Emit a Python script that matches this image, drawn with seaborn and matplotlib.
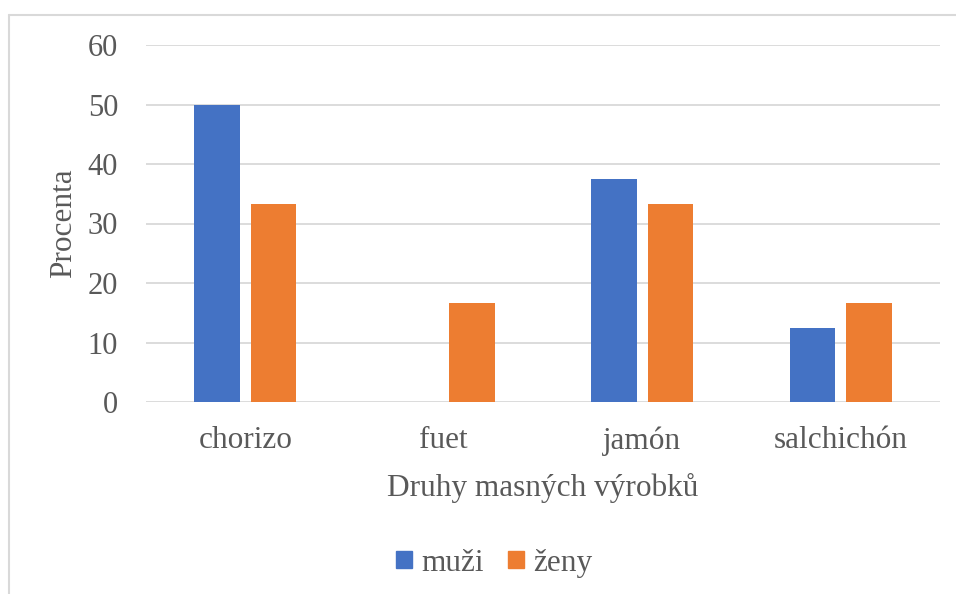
import pandas as pd
import matplotlib
matplotlib.use("Agg")
import matplotlib.pyplot as plt
import seaborn as sns
from matplotlib.lines import Line2D

categories = ['chorizo', 'fuet', 'jamón', 'salchichón']
muzi = [50.0, 0.0, 37.5, 12.5]
zeny = [33.3, 16.7, 33.3, 16.7]
series_names = ['muži', 'ženy']
yticks = [0, 10, 20, 30, 40, 50, 60]

df = pd.DataFrame({
    'kategorie': categories * 2,
    'pohlavi': [series_names[0]] * len(categories) + [series_names[1]] * len(categories),
    'procenta': muzi + zeny,
})

sns.set_theme(style='white')
plt.rcParams['font.family'] = ['Liberation Serif', 'DejaVu Serif']
text_col = '#595959'
grid_col = '#D9D9D9'

fig = plt.figure(figsize=(9.56, 5.94), dpi=100)
ax = fig.add_axes([146 / 956, 1 - 402 / 594, (940 - 146) / 956, (402 - 45) / 594])

sns.barplot(data=df, x='kategorie', y='procenta', hue='pohlavi',
            palette=['#4472C4', '#ED7D31'], width=0.57, gap=0.2,
            saturation=1, ax=ax, legend=False, zorder=3, linewidth=0)

ax.set_ylim(0, 60)
ax.set_yticks(yticks)
ax.yaxis.grid(True, color=grid_col, linewidth=1.3, zorder=0)
ax.set_axisbelow(True)
sns.despine(ax=ax, left=True, bottom=True)
ax.tick_params(axis='y', length=0, labelsize=22, labelcolor=text_col, pad=20)
ax.tick_params(axis='x', length=0, labelsize=22.5, labelcolor=text_col, pad=17.5)

ax.set_ylabel('Procenta', fontsize=22.5, color=text_col)
ax.yaxis.set_label_coords(-0.086, 0.5)
ax.set_xlabel('Druhy masných výrobků', fontsize=22.5, color=text_col)
ax.xaxis.set_label_coords(0.5, -0.2)

handles = [plt.Rectangle((0, 0), 1, 1, color=c) for c in ['#4472C4', '#ED7D31']]
fig.legend(handles, series_names, loc='center', bbox_to_anchor=(0.517, 0.052),
           ncol=2, frameon=False, fontsize=22.5, handlelength=0.5, handleheight=0.5,
           columnspacing=0.8, handletextpad=0.3, labelcolor=text_col)

# chart area border (only top and left visible)
fig.add_artist(Line2D([9 / 956, 9 / 956], [0, 1 - 15 / 594], color=grid_col, linewidth=1.5, transform=fig.transFigure))
fig.add_artist(Line2D([9 / 956, 1], [1 - 15 / 594, 1 - 15 / 594], color=grid_col, linewidth=1.5, transform=fig.transFigure))

fig.savefig('out.png', dpi=100, facecolor='white')
